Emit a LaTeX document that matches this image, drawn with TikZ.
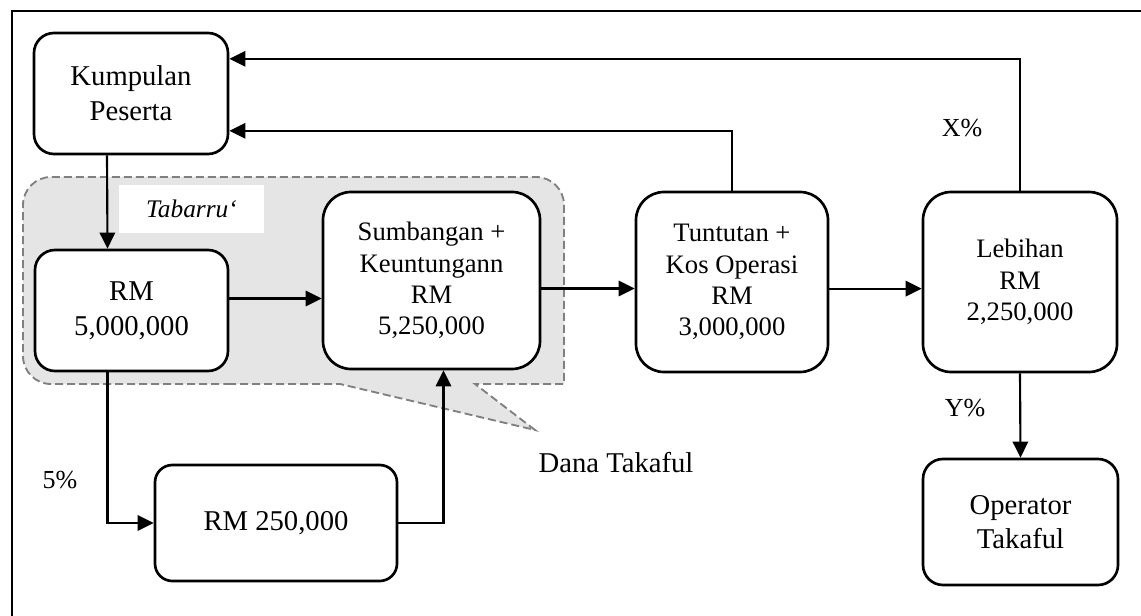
\documentclass[tikz,border=0pt]{standalone}
\usepackage{fontspec}
\setmainfont{Liberation Serif}
\usetikzlibrary{arrows.meta, positioning}

\begin{document}
\begin{tikzpicture}[x=0.75pt, y=-0.75pt,
    box/.style={rectangle, draw, line width=2pt, fill=white, rounded corners=15pt, align=center, font=\fontsize{21.5}{26}\selectfont},
    tallbox/.style={box, rounded corners=21pt, font=\fontsize{20}{23.5}\selectfont},
    arrow/.style={-{Triangle[length=12pt,width=11.5pt]}, line width=1.6pt},
    lbl/.style={font=\fontsize{19.5}{23}\selectfont},
    fund/.style={draw=gray, fill=gray!20, dash pattern=on 6pt off 3pt, line width=1.4pt}
]
\useasboundingbox (0,0) rectangle (1141,616);

% Frame
\draw[line width=1.7pt] (12,616) -- (12,11) -- (1141,11);

% Dana Takaful region
\draw[fund] (200,384) -- (340,384) -- (535,430) -- (475,384) -- (564,384)
    [rounded corners=21pt] -- (564,177) -- (23,177) -- (23,384) -- cycle;
\node[fill=white, minimum width=108.75pt, minimum height=36pt, font=\itshape\fontsize{19}{22}\selectfont] (tabarru) at (191.5,209) {Tabarru‘};

% Boxes
\node[box, minimum width=145.5pt, minimum height=90.75pt] (kump) at (131,93.5) {Kumpulan\\Peserta};
\node[box, minimum width=144.75pt, minimum height=90.75pt] (rma) at (131.5,310.5) {RM\\5,000,000};
\node[tallbox, minimum width=162.75pt, minimum height=132.75pt] (sumb) at (431.5,280.5) {Sumbangan +\\Keuntungann\\RM\\5,250,000};
\node[tallbox, minimum width=144pt, minimum height=135pt] (tunt) at (732,282) {Tuntutan +\\Kos Operasi\\RM\\3,000,000};
\node[tallbox, minimum width=145.5pt, minimum height=135pt] (lebih) at (1020,282) {Lebihan\\RM\\2,250,000};
\node[box, minimum width=146.25pt, minimum height=94.5pt] (oper) at (1020.5,522) {Operator\\Takaful};
\node[box, rounded corners=13pt, minimum width=181.5pt, minimum height=87pt] (rmb) at (276,523) {RM 250,000};

% Labels
\node[lbl] (five) at (60,480) {5\%};
\node[lbl] (xpct) at (962,128) {X\%};
\node[lbl] (ypct) at (965,408) {Y\%};
\node[font=\fontsize{21.5}{26}\selectfont] (dana) at (616,463) {Dana Takaful};

% Connections
\draw[arrow] ([xshift=-18pt]kump.south) -- ([xshift=-18pt]rma.north);
\draw[arrow] ([yshift=9pt]rma.east) -- ([yshift=9pt]rma.east -| sumb.west);
\draw[arrow] ([yshift=-6pt]sumb.east) -- ([yshift=-6pt]sumb.east -| tunt.west);
\draw[arrow] ([yshift=-5pt]tunt.east) -- ([yshift=-5pt]tunt.east -| lebih.west);
\draw[arrow] (lebih.south) -- (oper.north);
\draw[arrow] ([xshift=-18pt]rma.south) |- (rmb.west);
\draw[arrow] (rmb.east) -| ([xshift=9pt]sumb.south);
\draw[arrow] (tunt.north) |- ([yshift=-28pt]kump.east);
\draw[arrow] (lebih.north) |- ([yshift=26pt]kump.east);

\end{tikzpicture}
\end{document}
